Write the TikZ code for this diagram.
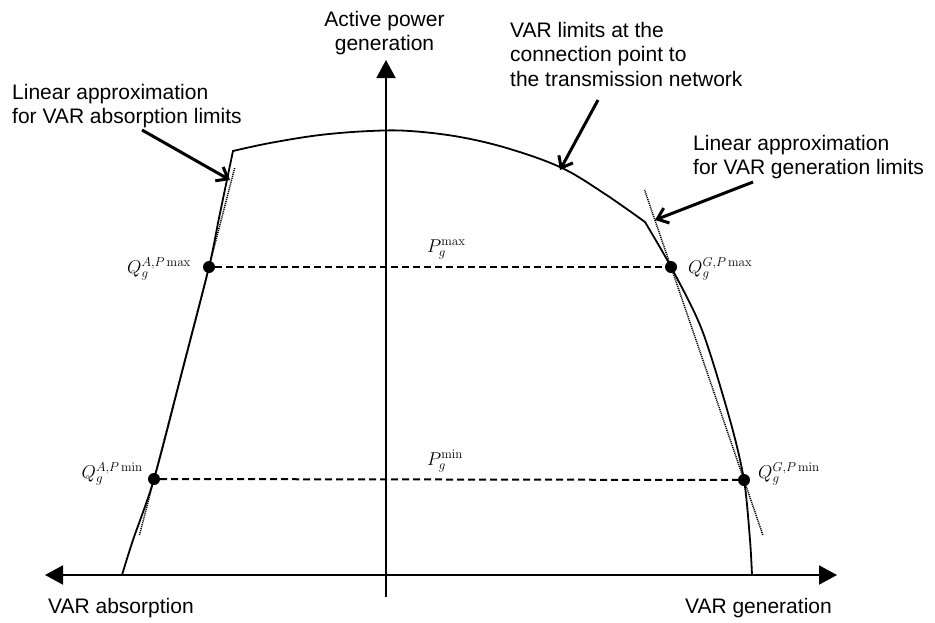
\RequirePackage{fix-cm}
\documentclass[tikz,border=0pt]{standalone}
\usepackage[no-math]{fontspec}
\setmainfont{Liberation Sans}
\usetikzlibrary{arrows.meta,calc}

\begin{document}
\begin{tikzpicture}[x=1pt,y=-1pt,
  lbl/.style={font=\fontsize{21}{24.5}\selectfont, inner sep=0pt, align=left},
  mathlbl/.style={font=\fontsize{18.5}{20}\selectfont, inner sep=0pt},
  axisline/.style={line width=2pt, >={Triangle[length=18pt,width=19pt]}},
  limit/.style={line width=1.8pt, line join=miter},
  approx/.style={line width=1.5pt, dash pattern=on 1.1pt off 0.9pt},
  level/.style={line width=2pt, dash pattern=on 7pt off 4pt},
  opdot/.style={circle, fill, inner sep=0pt, minimum size=12pt},
  callout/.style={line width=3pt, -{Straight Barb[length=10pt,width=16pt]}}]

\useasboundingbox (0,0) rectangle (935,622);

% axes
\coordinate (ybot) at (386,597);
\coordinate (ytop) at (386,60);
\coordinate (xleft) at (45,575);
\coordinate (xright) at (837,575);

% operating points on the capability curve
\coordinate (Amax) at (209,267);
\coordinate (Amin) at (154,479);
\coordinate (Gmax) at (671,267);
\coordinate (Gmin) at (744,480);

% corners of the capability curve
\coordinate (cornerL) at (233,151);
\coordinate (cornerR) at (645,222);

% VAR limits at the connection point
\draw[limit]
  plot[smooth, tension=0.5] coordinates {(122,575) (133,540) (Amin) (182,372) (Amax) (219,218) (cornerL)}
  -- plot[smooth, tension=0.6] coordinates {(cornerL) (270,143) (320,135) (370,131) (410,131) (460,137) (510,149) (562,168) (605,194) (cornerR)}
  -- plot[smooth, tension=0.5] coordinates {(cornerR) (Gmax) (702,330) (730,420) (Gmin) (750,540) (752,575)};

% linear approximations
\draw[approx] ($(Amin)!-0.264!(Amax)$) -- ($(Amax)!-0.467!(Amin)$);
\draw[approx] ($(Gmin)!-0.258!(Gmax)$) -- ($(Gmax)!-0.362!(Gmin)$);

% power levels
\node[opdot] (amaxdot) at (Amax) {};
\node[opdot] (amindot) at (Amin) {};
\node[opdot] (gmaxdot) at (Gmax) {};
\node[opdot] (gmindot) at (Gmin) {};
\draw[level] (amaxdot) -- (gmaxdot);
\draw[level] (amindot) -- (gmindot);

% axes
\draw[axisline, ->] (ybot) -- (ytop);
\draw[axisline, <->] (xleft) -- (xright);

% axis labels
\node[lbl, align=center, anchor=north] (pgen) at (384.5,11) {Active power\\generation};
\node[lbl, anchor=base west] (absorb) at (48,613) {VAR absorption};
\node[lbl, anchor=base east] (gener) at (832,613) {VAR generation};

% math labels
\node[mathlbl, anchor=base east] (qamax) at (191,273) {$Q_g^{A,P\max}$};
\node[mathlbl, anchor=base east] (qamin) at (143,478) {$Q_g^{A,P\min}$};
\node[mathlbl, anchor=base west] (qgmax) at (688,273) {$Q_g^{G,P\max}$};
\node[mathlbl, anchor=base west] (qgmin) at (758,478) {$Q_g^{G,P\min}$};
\node[mathlbl, anchor=base west] (pmax) at (427,252) {$P_g^{\max}$};
\node[mathlbl, anchor=base west] (pmin) at (427,465) {$P_g^{\min}$};

% annotations
\node[lbl, anchor=north west] (absnote) at (12,84) {Linear approximation\\for VAR absorption limits};
\node[lbl, anchor=north west] (gennote) at (693,135) {Linear approximation\\for VAR generation limits};
\node[lbl, anchor=north west] (limnote) at (510,22) {VAR limits at the\\connection point to\\the transmission network};

\coordinate (absTail) at (142,130);
\coordinate (absTip) at (230,180);
\coordinate (limTail) at (598,100);
\coordinate (limTip) at (560,170);
\coordinate (genTail) at (753,182);
\coordinate (genTip) at (655,220);
\draw[callout] (absTail) -- (absTip);
\draw[callout] (limTail) -- (limTip);
\draw[callout] (genTail) -- (genTip);
\end{tikzpicture}
\end{document}
